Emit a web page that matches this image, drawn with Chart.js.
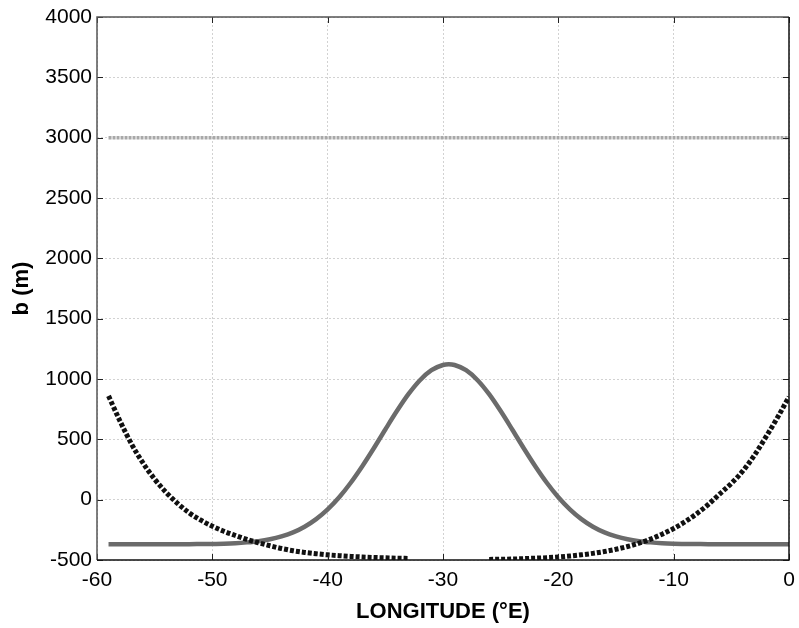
<!DOCTYPE html>
<html>
<head>
<meta charset="utf-8">
<script src="https://cdn.jsdelivr.net/npm/chart.js@4/dist/chart.umd.min.js"></script>
<style>
  html, body { margin: 0; padding: 0; background: #fff; }
  #wrap { width: 799px; height: 628px; }
</style>
</head>
<body>
<div id="wrap"><canvas id="c" width="799" height="628"></canvas></div>
<script>
// Longitude (°E) sample positions for the flat level
const LON = [-59,-58,-57,-56,-55,-54,-53,-52,-51,-50,-49,-48,-47,-46,-45,-44,-43,-42,-41,-40,
             -39,-38,-37,-36,-35,-34,-33,-32,-31,-30,-29,-28,-27,-26,-25,-24,-23,-22,-21,-20,
             -19,-18,-17,-16,-15,-14,-13,-12,-11,-10,-9,-8,-7,-6,-5,-4,-3,-2,-1,0];
// Flat reference level (m)
const LEVEL = [3000,3000,3000,3000,3000,3000,3000,3000,3000,3000,3000,3000,3000,3000,3000,3000,3000,3000,3000,3000,
               3000,3000,3000,3000,3000,3000,3000,3000,3000,3000,3000,3000,3000,3000,3000,3000,3000,3000,3000,3000,
               3000,3000,3000,3000,3000,3000,3000,3000,3000,3000,3000,3000,3000,3000,3000,3000,3000,3000,3000,3000];
// Bell-shaped ridge: longitudes and values (m)
const RIDGE_LON = [-59,-58,-57,-56,-55,-54,-53,-52,-51,-50,-49,-48,-47,-46,-45,-44,-43,-42,-41,-40,
                   -39,-38,-37,-36,-35,-34,-33,-32,-31,-30,-29.5,-29,-28,-27,-26,-25,-24,-23,-22,-21,-20,
                   -19,-18,-17,-16,-15,-14,-13,-12,-11,-10,-9,-8,-7,-6,-5,-4,-3,-2,-1,0];
const RIDGE = [-370,-370,-370,-370,-370,-370,-369,-369,-368,-367,-365,-361,-354,-344,-328,-304,-271,-224,-161,-80,
               20,140,277,426,582,734,874,990,1073,1116,1122,1116,1073,990,874,734,582,426,277,140,20,
               -80,-161,-224,-271,-304,-328,-344,-354,-361,-365,-367,-368,-369,-369,-370,-370,-370,-370,-370,-370];
// Western dotted curve: longitudes and values (m)
const WEST_LON = [-59,-58,-57,-56,-55,-54,-53,-52,-51,-50,-49,-48,-47,-46,-45,-44,-43,-42,-41,-40,-39,-38,-37,-36,-35,-34,-33];
const WEST = [860,650,460,302,170,60,-32,-110,-170,-220,-262,-297,-330,-357,-382,-405,-423,-437,-448,-457,-464,-470,-475,-479,-482,-485,-487];
// Eastern dotted curve: longitudes and values (m)
const EAST_LON = [-26,-25,-24,-23,-22,-21,-20,-19,-18,-17,-16,-15,-14,-13,-12,-11,-10,-9,-8,-7,-6,-5,-4,-3,-2,-1,0];
const EAST = [-495,-494,-492,-489,-485,-481,-475,-467,-457,-445,-430,-411,-388,-360,-327,-286,-239,-182,-116,-40,48,135,238,368,520,680,852];
// Axis ticks
const X_TICKS = [-60,-50,-40,-30,-20,-10,0];
const Y_TICKS = [-500,0,500,1000,1500,2000,2500,3000,3500,4000];

const pts = (xs, ys) => xs.map((x, i) => ({x: x, y: ys[i]}));

const frame = {
  id: 'frame',
  afterDraw(chart) {
    const {ctx, chartArea: {left, right, top, bottom}, scales: {x, y}} = chart;
    ctx.save();
    ctx.lineWidth = 1;
    ctx.strokeStyle = '#222';
    ctx.beginPath();
    X_TICKS.forEach(v => {
      const px = Math.round(x.getPixelForValue(v)) + 0.5;
      ctx.moveTo(px, bottom); ctx.lineTo(px, bottom - 6);
      ctx.moveTo(px, top); ctx.lineTo(px, top + 6);
    });
    Y_TICKS.forEach(v => {
      const py = Math.round(y.getPixelForValue(v)) + 0.5;
      ctx.moveTo(left, py); ctx.lineTo(left + 6, py);
      ctx.moveTo(right, py); ctx.lineTo(right - 6, py);
    });
    ctx.stroke();
    ctx.lineWidth = 1.5;
    ctx.strokeStyle = '#555';
    ctx.beginPath();
    ctx.moveTo(left, bottom); ctx.lineTo(left, top); ctx.lineTo(right, top);
    ctx.stroke();
    ctx.strokeStyle = '#111';
    ctx.beginPath();
    ctx.moveTo(right, top); ctx.lineTo(right, bottom); ctx.lineTo(left, bottom);
    ctx.stroke();
    ctx.restore();
  }
};

const FONT = 'Liberation Sans, Arial, Helvetica, sans-serif';

new Chart(document.getElementById('c'), {
  type: 'line',
  data: {
    datasets: [
      { data: pts(WEST_LON, WEST), borderColor: '#111', borderWidth: 5, borderDash: [4, 2], pointRadius: 0, fill: false, cubicInterpolationMode: 'monotone' },
      { data: pts(EAST_LON, EAST), borderColor: '#111', borderWidth: 5, borderDash: [4, 2], pointRadius: 0, fill: false, cubicInterpolationMode: 'monotone' },
      { data: pts(RIDGE_LON, RIDGE), borderColor: '#6b6b6b', borderWidth: 4.5, pointRadius: 0, fill: false, cubicInterpolationMode: 'monotone' },
      { data: pts(LON, LEVEL), borderColor: '#a8a8a8', borderWidth: 3.5, borderDash: [3, 1], pointRadius: 0, fill: false }
    ]
  },
  options: {
    responsive: false,
    animation: false,
    layout: { padding: { top: 17, right: 10, left: 0, bottom: 0 } },
    plugins: { legend: { display: false }, tooltip: { enabled: false } },
    scales: {
      x: {
        type: 'linear', min: -60, max: 0,
        afterBuildTicks: s => { s.ticks = X_TICKS.map(v => ({value: v})); },
        afterFit: s => { s.height = 68; s.paddingLeft = 0; s.paddingRight = 0; },
        grid: { color: '#d2d2d2', lineWidth: 1, drawTicks: false },
        border: { display: false, dash: [2, 2] },
        ticks: { color: '#000', font: { family: FONT, size: 21 }, padding: 8, maxRotation: 0, callback: v => String(v) },
        title: { display: true, text: 'LONGITUDE (°E)', color: '#000', font: { family: FONT, size: 22, weight: 'bold' }, padding: { top: 0, bottom: 3 } }
      },
      y: {
        type: 'linear', min: -500, max: 4000,
        afterBuildTicks: s => { s.ticks = Y_TICKS.map(v => ({value: v})); },
        afterFit: s => { s.width = 97; s.paddingTop = 0; s.paddingBottom = 0; },
        grid: { color: '#d2d2d2', lineWidth: 1, drawTicks: false },
        border: { display: false, dash: [2, 2] },
        ticks: { color: '#000', font: { family: FONT, size: 21 }, padding: 5, callback: v => String(v) },
        title: { display: true, text: 'b (m)', color: '#000', font: { family: FONT, size: 22, weight: 'bold' }, padding: { top: 9, bottom: 0 } }
      }
    }
  },
  plugins: [frame]
});
</script>
</body>
</html>
